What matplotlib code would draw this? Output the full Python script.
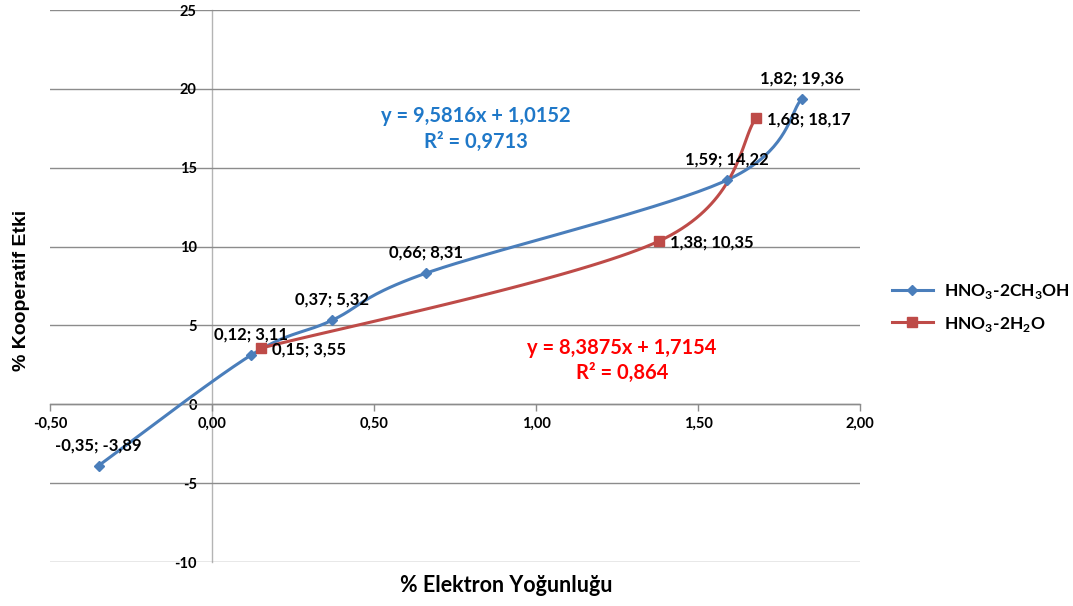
import numpy as np
import matplotlib
matplotlib.use("Agg")
import matplotlib.pyplot as plt
from matplotlib.lines import Line2D

plt.rcParams['font.family'] = ['Lato', 'DejaVu Sans']
plt.rcParams['mathtext.fontset'] = 'custom'
plt.rcParams['mathtext.rm'] = 'Lato'
plt.rcParams['mathtext.bf'] = 'Lato:bold'

# Series data
x_methanol = [-0.35, 0.12, 0.37, 0.66, 1.59, 1.82]
y_methanol = [-3.89, 3.11, 5.32, 8.31, 14.22, 19.36]
x_water = [0.15, 1.38, 1.68]
y_water = [3.55, 10.35, 18.17]

label_methanol = r"HNO$_\mathbf{3}$-2CH$_\mathbf{3}$OH"
label_water = r"HNO$_\mathbf{3}$-2H$_\mathbf{2}$O"

eq_methanol = ["y = 9,5816x + 1,0152", "R² = 0,9713"]
eq_water = ["y = 8,3875x + 1,7154", "R² = 0,864"]

x_ticks = [-0.5, 0.0, 0.5, 1.0, 1.5, 2.0]
y_ticks = [-10, -5, 0, 5, 10, 15, 20, 25]

blue = "#4A7EBB"
red = "#BE4B48"


def fmt(v, nd):
    return f"{v:.{nd}f}".replace(".", ",")


def smooth(ax, xs, ys, n=40):
    """Bezier smoothing in display space (Catmull-Rom style, 1/6 tension)."""
    pts = ax.transData.transform(np.column_stack([xs, ys]))
    m = len(pts)
    out = []
    for i in range(m - 1):
        p0 = pts[i - 1] if i > 0 else pts[i]
        p1 = pts[i]
        p2 = pts[i + 1]
        p3 = pts[i + 2] if i + 2 < m else pts[i + 1]
        c1 = p1 + (p2 - p0) / 6.0
        c2 = p2 - (p3 - p1) / 6.0
        t = np.linspace(0, 1, n)[:, None]
        seg = ((1 - t) ** 3 * p1 + 3 * (1 - t) ** 2 * t * c1
               + 3 * (1 - t) * t ** 2 * c2 + t ** 3 * p2)
        out.append(seg if i == 0 else seg[1:])
    curve = np.vstack(out)
    data = ax.transData.inverted().transform(curve)
    return data[:, 0], data[:, 1]


fig = plt.figure(figsize=(10.73, 6.06), dpi=100)
ax = fig.add_axes([50 / 1073, 44 / 606, 810 / 1073, 552 / 606])
ax.set_xlim(-0.5, 2.0)
ax.set_ylim(-10, 25)

for s in ("top", "right"):
    ax.spines[s].set_visible(False)
ax.spines["left"].set_position(("data", 0))
ax.spines["bottom"].set_position(("data", 0))
ax.spines["left"].set_color("#b4b4b4")
ax.spines["bottom"].set_color("#8c8c8c")
ax.spines["left"].set_linewidth(1.0)
ax.spines["bottom"].set_linewidth(1.0)
ax.spines["left"].set_zorder(0.5)

ax.set_xticks(x_ticks)
ax.set_xticklabels([fmt(v, 2) for v in x_ticks])
ax.set_yticks(y_ticks)
ax.set_yticklabels([str(v) for v in y_ticks])
ax.tick_params(axis="x", direction="out", length=5, width=1, color="#8c8c8c",
               pad=4, labelsize=10.5)
ax.tick_params(axis="y", length=0, pad=11, labelsize=10.5)
for lab in ax.get_xticklabels() + ax.get_yticklabels():
    lab.set_fontweight("bold")
ax.yaxis.grid(True, color="#8c8c8c", linewidth=1.0)
ax.set_axisbelow(True)

fig.canvas.draw()

sx, sy = smooth(ax, x_methanol, y_methanol)
ax.plot(sx, sy, color=blue, lw=2.2, zorder=3, solid_capstyle="round")
ax.plot(x_methanol, y_methanol, ls="none", marker="D", ms=5.5, color=blue,
        zorder=4)
rx, ry = smooth(ax, x_water, y_water)
ax.plot(rx, ry, color=red, lw=2.2, zorder=3, solid_capstyle="round")
ax.plot(x_water, y_water, ls="none", marker="s", ms=7.5, color=red, zorder=4)

# Point labels: methanol above, water to the right
for x, y in zip(x_methanol, y_methanol):
    ax.annotate(f"{fmt(x, 2)}; {fmt(y, 2)}", (x, y), xytext=(0, 9),
                textcoords="offset points", ha="center", va="bottom",
                fontsize=12, fontweight="bold", color="black", zorder=5)
for x, y in zip(x_water, y_water):
    ax.annotate(f"{fmt(x, 2)}; {fmt(y, 2)}", (x, y), xytext=(8, -1),
                textcoords="offset points", ha="left", va="center",
                fontsize=12, fontweight="bold", color="black", zorder=5)

# Trendline equations
fig.text(476 / 1073, 1 - 116 / 606, eq_methanol[0], ha="center", va="center",
         fontsize=14.5, fontweight="bold", color="#1F78C8")
fig.text(476 / 1073, 1 - 142 / 606, eq_methanol[1], ha="center", va="center",
         fontsize=14.5, fontweight="bold", color="#1F78C8")
fig.text(622 / 1073, 1 - 348 / 606, eq_water[0], ha="center", va="center",
         fontsize=14.5, fontweight="bold", color="#FF0000")
fig.text(622 / 1073, 1 - 373 / 606, eq_water[1], ha="center", va="center",
         fontsize=14.5, fontweight="bold", color="#FF0000")

# Axis titles
fig.text(22 / 1073, 1 - 290 / 606, "% Kooperatif Etki", rotation=90,
         ha="center", va="center", fontsize=14, fontweight="bold",
         family="Liberation Sans")
fig.text(506 / 1073, 1 - 586 / 606, "% Elektron Yoğunluğu", ha="center",
         va="center", fontsize=15.5, fontweight="bold")

handles = [
    Line2D([], [], color=blue, lw=2.2, marker="D", ms=5.5),
    Line2D([], [], color=red, lw=2.2, marker="s", ms=7.5),
]
leg = fig.legend(handles, [label_methanol, label_water],
                 loc="upper left", bbox_to_anchor=(876 / 1073, 1 - 266 / 606),
                 frameon=False, handlelength=2.4, handletextpad=0.6,
                 labelspacing=0.8, prop={"family": "Lato", "weight": "bold",
                                         "size": 12.5})

fig.savefig("out.png", dpi=100, facecolor="white")
